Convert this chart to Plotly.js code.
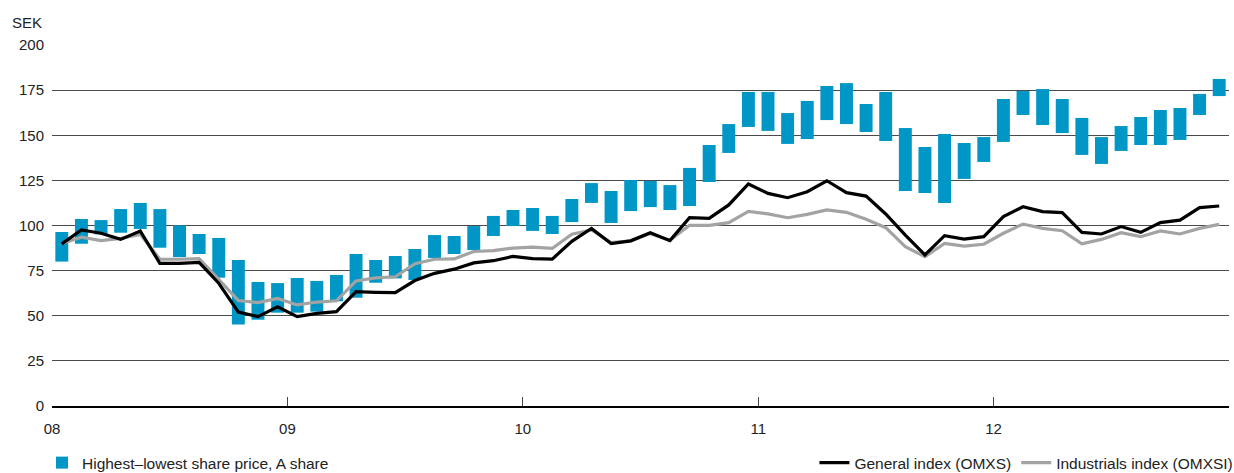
<!DOCTYPE html>
<html>
<head>
<meta charset="utf-8">
<script src="https://cdn.plot.ly/plotly-3.0.1.min.js"></script>
<style>
html,body{margin:0;padding:0;background:#fff;}
#chart{width:1234px;height:473px;}
</style>
</head>
<body>
<div id="chart"></div>
<script>
// Months Jan 2008 – Dec 2012
const months = [];
for (let y = 2008; y <= 2012; y++) for (let m = 1; m <= 12; m++) months.push(y + '-' + String(m).padStart(2, '0'));

// Highest / lowest share price, A share (SEK)
const highPrice = [96.4,103.6,103.0,109.1,112.5,109.1,100.1,95.3,93.1,80.9,68.7,68.1,
  70.9,69.3,72.6,84.2,80.9,83.1,87.0,94.7,94.2,99.7,105.3,108.6,
  109.7,105.3,114.7,123.5,119.1,125.2,124.7,122.4,131.9,144.6,156.2,174.0,
  174.0,162.3,169.0,177.3,178.9,167.3,174.0,154.0,143.5,150.7,145.7,149.0,
  170.1,174.5,175.6,170.1,159.6,149.0,155.1,160.1,164.0,165.1,172.9,181.2];
const lowPrice = [80.0,89.9,95.1,96.0,98.1,87.7,82.5,84.2,71.1,45.1,47.8,51.7,
  51.7,52.3,58.0,60.0,68.3,70.7,69.8,82.0,84.2,86.4,94.2,99.7,
  97.0,95.3,101.9,112.5,101.4,108.0,110.2,108.6,110.8,124.1,140.2,154.6,
  152.4,145.2,147.9,158.4,156.2,151.8,146.8,119.1,118.0,112.5,125.8,135.2,
  146.3,161.2,155.7,151.2,139.1,134.1,141.3,144.6,144.6,147.4,161.2,171.7];

// General index (OMXS)
const generalIndex = [89.8,97.5,95.7,92.3,97.0,79.0,79.0,79.6,68.0,52.0,49.5,55.0,
  49.5,51.3,52.3,63.3,63.0,62.8,69.5,73.5,75.8,79.3,80.5,82.9,
  81.6,81.4,91.2,98.4,90.0,91.5,96.0,91.6,104.3,104.0,111.4,123.0,
  117.8,115.4,118.7,124.8,118.2,116.3,106.4,94.7,83.7,94.4,92.5,93.8,
  104.9,110.4,107.7,107.1,96.2,95.3,99.4,96.2,101.6,103.0,109.9,110.8];

// Industrials index (OMXSI)
const industrialsIndex = [90.0,93.5,91.6,92.9,95.1,81.3,81.3,81.6,70.2,58.4,57.3,59.6,
  56.0,57.6,58.3,69.3,71.0,71.6,78.8,81.3,81.5,85.6,86.1,87.5,
  88.0,87.3,95.2,97.5,90.5,91.5,95.5,91.8,100.1,100.1,101.6,107.8,
  106.4,104.3,106.2,108.6,107.3,103.4,98.8,88.3,82.7,90.1,88.6,89.6,
  95.7,100.8,98.4,97.1,89.8,92.3,96.0,93.8,97.0,95.3,98.4,100.6];

const yearTickLabels = ['08','09','10','11','12',''];

const xPos = months.map((_, i) => i + 0.5);
const FONT = 'Liberation Sans, Arial, sans-serif';

const traces = [
  {
    type: 'bar',
    name: 'Highest\u2013lowest share price, A share',
    x: xPos,
    base: lowPrice,
    y: highPrice.map((h, i) => h - lowPrice[i]),
    width: 0.66,
    marker: {color: '#0097c6', line: {width: 0}},
    legend: 'legend',
    hoverinfo: 'skip'
  },
  {
    type: 'scatter', mode: 'lines',
    name: 'Industrials index (OMXSI)',
    x: xPos, y: industrialsIndex,
    line: {color: '#a3a3a3', width: 3.2},
    legend: 'legend2', legendrank: 2,
    hoverinfo: 'skip'
  },
  {
    type: 'scatter', mode: 'lines',
    name: 'General index (OMXS)',
    x: xPos, y: generalIndex,
    line: {color: '#000000', width: 3.2},
    legend: 'legend2', legendrank: 1,
    hoverinfo: 'skip'
  }
];

const layout = {
  width: 1234, height: 473,
  margin: {l: 52, r: 5, t: 45, b: 67, pad: 0, autoexpand: false},
  paper_bgcolor: '#fff', plot_bgcolor: '#fff',
  font: {family: FONT, size: 15, color: '#222'},
  showlegend: true,
  hovermode: false,
  xaxis: {
    range: [0, 60],
    tickmode: 'array',
    tickvals: [0, 12, 24, 36, 48, 60],
    ticktext: yearTickLabels,
    ticks: 'inside', ticklen: 9, tickwidth: 1, tickcolor: '#444',
    showgrid: false, zeroline: false,
    showline: true, linecolor: '#000', linewidth: 2,
    ticklabelstandoff: 8,
    tickfont: {family: FONT, size: 15, color: '#222'},
    fixedrange: true
  },
  yaxis: {
    range: [0, 200],
    tickvals: [0, 25, 50, 75, 100, 125, 150, 175, 200],
    showgrid: true, gridcolor: '#4a4a4a', gridwidth: 1,
    zeroline: false, showline: false, ticks: '',
    ticklabelstandoff: 7,
    tickfont: {family: FONT, size: 15, color: '#222'},
    fixedrange: true
  },
  legend: {
    orientation: 'h', x: -0.0085, xanchor: 'left', y: -0.158, yanchor: 'middle',
    font: {family: FONT, size: 15.5, color: '#222'},
    bgcolor: 'rgba(0,0,0,0)', itemclick: false, itemdoubleclick: false
  },
  legend2: {
    orientation: 'h', x: 1.008, xanchor: 'right', y: -0.158, yanchor: 'middle',
    traceorder: 'normal',
    font: {family: FONT, size: 15.5, color: '#222'},
    bgcolor: 'rgba(0,0,0,0)', itemclick: false, itemdoubleclick: false
  },
  annotations: [{
    text: 'SEK', xref: 'paper', yref: 'paper',
    x: 0, xshift: -8, xanchor: 'right',
    y: 1, yshift: 23, yanchor: 'middle',
    showarrow: false,
    font: {family: FONT, size: 15, color: '#222'}
  }]
};

Plotly.newPlot('chart', traces, layout, {staticPlot: true, displayModeBar: false});
</script>
</body>
</html>
